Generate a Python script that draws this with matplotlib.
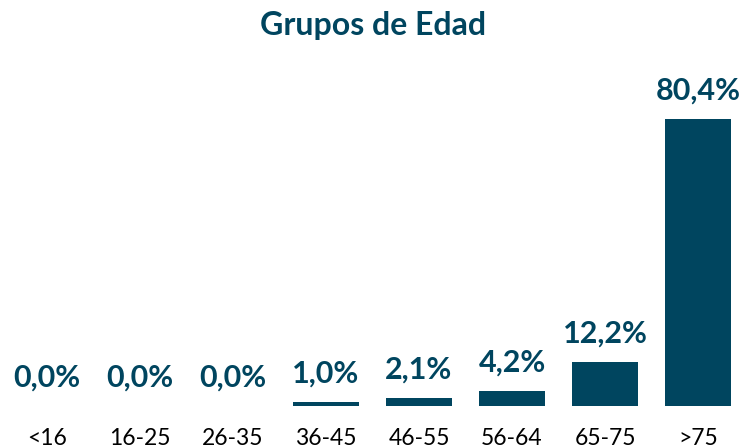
import matplotlib
matplotlib.use("Agg")
import matplotlib.pyplot as plt

categories = ["<16", "16-25", "26-35", "36-45", "46-55", "56-64", "65-75", ">75"]
values = [0.0, 0.0, 0.0, 1.0, 2.1, 4.2, 12.2, 80.4]
title = "Grupos de Edad"

color = "#00455F"
fig = plt.figure(figsize=(7.47, 4.48), dpi=100)
ax = fig.add_axes([0.5 / 747, (448 - 405.7) / 448, 744 / 747, 356.6 / 448])
x = range(len(categories))
bars = ax.bar(x, values, width=0.71, color=color)
ax.set_xlim(-0.5, len(categories) - 0.5)
ax.set_ylim(0, 100)
for xi, v in zip(x, values):
    ax.annotate(f"{v:.1f}%".replace(".", ","), (xi, v), xytext=(0, 14),
                textcoords="offset points", ha="center", va="baseline",
                fontsize=22, fontweight="bold", color=color, family="Lato")
ax.set_xticks(list(x))
ax.set_xticklabels(categories, fontsize=16.5, family="Lato", color="black")
ax.tick_params(axis="x", length=0, pad=16)
ax.set_yticks([])
for s in ax.spines.values():
    s.set_visible(False)
fig.text(0.5, 1 - 26 / 448, title, ha="center", va="center", fontsize=23,
         fontweight="bold", color=color, family="Lato")
fig.savefig("out.png", dpi=100)
